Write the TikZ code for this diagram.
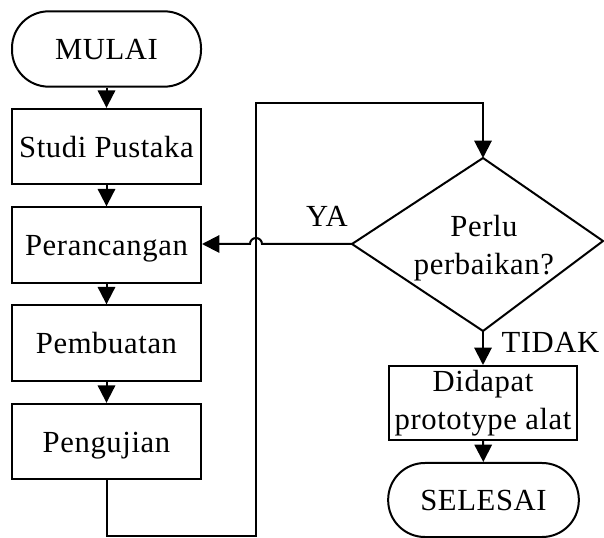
\documentclass[tikz,border=0pt]{standalone}
\usepackage{fontspec}
\setmainfont{Liberation Serif}[LetterSpace=2]
\usetikzlibrary{arrows.meta}
\begin{document}
\begin{tikzpicture}[x=0.75pt,y=-0.75pt,
  line/.style={draw=black,line width=1.5pt},
  arr/.style={line,-{Triangle[length=13pt,width=13pt]}},
  txt/.style={font=\fontsize{23}{28.5}\selectfont},
  proc/.style={line,txt,rectangle,minimum width=141.75pt,minimum height=56.5pt,inner sep=0pt,text height=19.5pt,text depth=3.7pt},
  term/.style={proc,rounded corners=27.5pt},
  proc2/.style={line,txt,rectangle,align=center,minimum width=141pt,minimum height=55.5pt,inner sep=0pt}
]
\useasboundingbox (0,0) rectangle (604,538);
\node[term] (mulai) at (106.5,49) {MULAI};
\node[proc] (studi) at (106.5,146.5) {Studi Pustaka};
\node[proc] (peran) at (106.5,245) {Perancangan};
\node[proc] (pemb) at (106.5,343) {Pembuatan};
\node[proc] (peng) at (106.5,441.5) {Pengujian};
\coordinate (dT) at (483,158);
\coordinate (dL) at (352,244);
\coordinate (dB) at (483,331);
\coordinate (dR) at (603,241);
\draw[line] (dT) -- (dR) -- (dB) -- (dL) -- cycle;
\node[txt,align=center,inner sep=0pt] (q) at (484,248.5) {Perlu\\perbaikan?};
\node[proc2] (didapat) at (483,403) {Didapat\\prototype alat};
\node[term,minimum width=143pt,minimum height=55.5pt] (selesai) at (483.5,500) {SELESAI};
\node[txt,anchor=base,inner sep=0pt] (ya) at (327,227) {YA};
\node[txt,anchor=base,inner sep=0pt] (tidak) at (550.5,353) {TIDAK};
\coordinate (c1) at (106.5,536);
\coordinate (c2) at (256,536);
\coordinate (c3) at (256,103);
\coordinate (c4) at (483,103);
\coordinate (hopR) at (262,244);
\draw[arr] (mulai) -- (studi);
\draw[arr] (studi) -- (peran);
\draw[arr] (peran) -- (pemb);
\draw[arr] (pemb) -- (peng);
\draw[arr] (peng.south) -- (c1) -- (c2) -- (c3) -- (c4) -- (dT);
\draw[arr] (dL) -- (hopR) arc[start angle=0,end angle=180,radius=4.5pt] -- (peran.east |- dL);
\draw[arr] (dB) -- (didapat.north);
\draw[arr] (didapat) -- (selesai);
\end{tikzpicture}
\end{document}
